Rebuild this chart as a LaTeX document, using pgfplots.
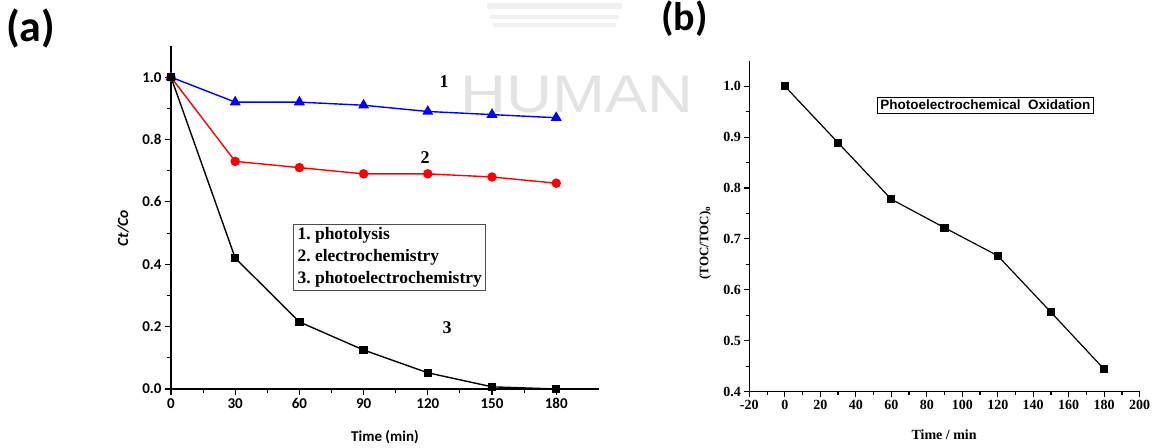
\documentclass[border=0pt]{standalone}
\usepackage{pgfplots}
\pgfplotsset{compat=1.18}
\usepackage{fontspec}
\setmainfont{Liberation Serif}
\newfontfamily\carl{Carlito}
\newfontfamily\arial{Liberation Sans}

\begin{document}
\begin{tikzpicture}[x=1pt,y=1pt]
\path[use as bounding box] (0,0) rectangle (1155,447);

% watermark of the source
\fill[gray!12] (487,444) rectangle (622,438);
\fill[gray!12] (490,432) rectangle (619,428);
\fill[gray!12] (493,424) rectangle (616,420);
\node[text=gray!22, font=\arial\fontsize{53}{53}\selectfont, anchor=base west, xscale=1.2, inner sep=0pt] at (460,334) {HUMAN};

\node[font=\carl\bfseries\fontsize{44}{44}\selectfont, anchor=north west, inner sep=0pt] at (6,438) {(a)};
\node[font=\carl\bfseries\fontsize{40}{40}\selectfont, anchor=north west, inner sep=0pt] at (661,446) {(b)};

% ---------- panel (a)
\begin{axis}[
    at={(171pt,58pt)}, anchor=south west,
    scale only axis, width=428pt, height=343pt,
    xmin=0, xmax=200, ymin=0, ymax=1.1,
    axis x line*=bottom, axis y line*=left,
    axis line style={line width=1.3pt,-},
    xtick={0,30,...,180}, minor x tick num=1,
    ytick={0,0.2,...,1.0}, minor y tick num=1,
    tick align=outside,
    major tick length=6pt, minor tick length=4pt,
    every tick/.style={line width=1.1pt, black},
    yticklabel style={/pgf/number format/.cd, fixed, fixed zerofill, precision=1},
    /pgf/number format/assume math mode=true,
    tick label style={font=\carl\bfseries\fontsize{15}{15}\selectfont},
    xlabel={Time (min)},
    xlabel style={at={(axis description cs:0.5,-0.14)}, anchor=center, font=\carl\bfseries\fontsize{15}{15}\selectfont},
    ylabel={Ct/Co},
    ylabel style={at={(axis description cs:-0.112,0.469)}, anchor=center, font=\carl\bfseries\itshape\fontsize{15.5}{15.5}\selectfont},
    clip=false,
]
\addplot[blue, line width=1.4pt, mark=triangle*, mark size=5pt] coordinates {
    (0,1.0) (30,0.92) (60,0.92) (90,0.91) (120,0.89) (150,0.88) (180,0.87)};
\addplot[red, line width=1.4pt, mark=*, mark size=4pt] coordinates {
    (0,1.0) (30,0.73) (60,0.71) (90,0.69) (120,0.69) (150,0.68) (180,0.66)};
\addplot[black, line width=1.4pt, mark=square*, mark size=3.5pt] coordinates {
    (0,1.0) (30,0.42) (60,0.215) (90,0.125) (120,0.052) (150,0.007) (180,0.0)};
\end{axis}

\node[font=\bfseries\fontsize{18}{18}\selectfont] at (444,365) {1};
\node[font=\bfseries\fontsize{18}{18}\selectfont] at (425,289) {2};
\node[font=\bfseries\fontsize{18}{18}\selectfont] at (447,119) {3};

\node[draw=black!70, line width=0.8pt, inner xsep=4pt, inner ysep=3pt, align=left,
      font=\bfseries\fontsize{17.5}{22}\selectfont] at (389.7,189.8)
  {1.\ photolysis\\2.\ electrochemistry\\3.\ photoelectrochemistry};

% ---------- panel (b)
\begin{axis}[
    at={(749.3pt,55.3pt)}, anchor=south west,
    scale only axis, width=390.4pt, height=331pt,
    xmin=-20, xmax=200, ymin=0.4, ymax=1.05,
    axis x line*=bottom, axis y line*=left,
    axis line style={line width=1.3pt,-},
    xtick={-20,0,...,200}, minor x tick num=1,
    ytick={0.4,0.5,...,1.0}, minor y tick num=1,
    tick align=outside,
    major tick length=5pt, minor tick length=3.5pt,
    every tick/.style={line width=1.1pt, black},
    yticklabel style={/pgf/number format/.cd, fixed, fixed zerofill, precision=1},
    /pgf/number format/assume math mode=true,
    tick label style={font=\bfseries\fontsize{14}{14}\selectfont},
    xlabel={Time / min},
    xlabel style={at={(axis description cs:0.499,-0.131)}, anchor=center, font=\bfseries\fontsize{14}{14}\selectfont},
    ylabel={(TOC/TOC)\textsubscript{o}},
    ylabel style={at={(axis description cs:-0.113,0.449)}, anchor=center, font=\bfseries\fontsize{13}{13}\selectfont},
    clip=false,
]
\addplot[black, line width=1.2pt, mark=square*, mark size=3.5pt] coordinates {
    (0,1.0) (30,0.889) (60,0.778) (90,0.722) (120,0.667) (150,0.556) (180,0.444)};
\end{axis}

\node[draw=black, line width=0.8pt, inner xsep=3pt, inner ysep=3pt,
      font=\arial\bfseries\fontsize{13.5}{13.5}\selectfont] at (985.4,342)
  {Photoelectrochemical\ \ Oxidation};
\end{tikzpicture}
\end{document}
